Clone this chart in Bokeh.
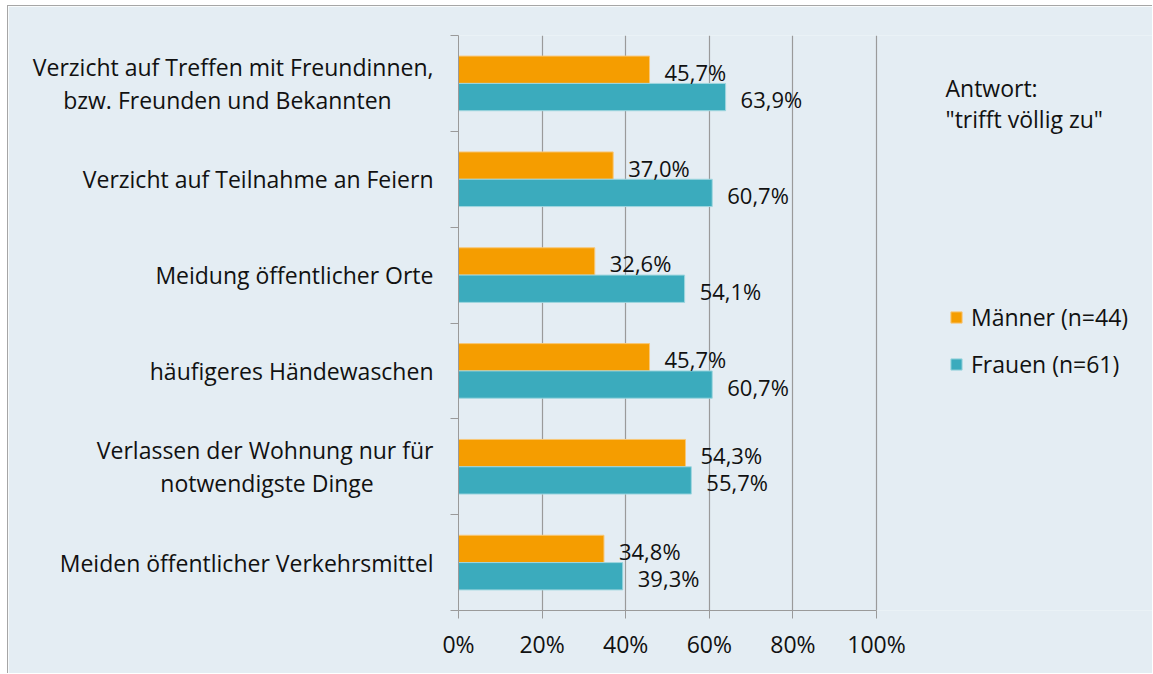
from bokeh.plotting import figure
from bokeh.models import (ColumnDataSource, FixedTicker, PrintfTickFormatter, Label,
                          Legend, LegendItem, Range1d)
from bokeh.embed import file_html
from bokeh.resources import INLINE
from bokeh.core.properties import value

# ---------------- data ----------------
categories = [
    ["Verzicht auf Treffen mit Freundinnen,", "bzw. Freunden und Bekannten"],
    ["Verzicht auf Teilnahme an Feiern"],
    ["Meidung öffentlicher Orte"],
    ["häufigeres Händewaschen"],
    ["Verlassen der Wohnung nur für", "notwendigste Dinge"],
    ["Meiden öffentlicher Verkehrsmittel"],
]
maenner = [45.7, 37.0, 32.6, 45.7, 54.3, 34.8]
frauen = [63.9, 60.7, 54.1, 60.7, 55.7, 39.3]
series_names = ["Männer (n=44)", "Frauen (n=61)"]
x_ticks = [0, 20, 40, 60, 80, 100]
note_lines = ["Antwort:", "\"trifft völlig zu\""]

# ---------------- style ----------------
FONT = "Open Sans"
FS = "23px"
FS_VAL = "22px"
BG = "#E4EDF3"
ORANGE = "#F59D00"
TEAL = "#3BABBD"
GRID = "#9a9a9a"
TXT = "#111111"

n = len(categories)
centers = [n - i - 0.5 for i in range(n)]
bar_h = 0.285

# the second line of a wrapped label is roughly centred under the first one
line2_pad = {0: 7, 4: 10}


def fmt(v):
    return ("%.1f%%" % v).replace(".", ",")


def label_text(i, lines):
    if len(lines) == 1:
        return lines[0]
    return lines[0] + "\n" + lines[1] + "\u00a0" * line2_pad.get(i, 0)


src_m = ColumnDataSource(dict(y=[c + bar_h / 2 for c in centers], v=maenner,
                              t=[fmt(v) for v in maenner]))
src_f = ColumnDataSource(dict(y=[c - bar_h / 2 for c in centers], v=frauen,
                              t=[fmt(v) for v in frauen]))

W, H = 1145, 668
left_b, top_b, right_b = 450, 29, 0
frame_h = 575
px_per_100 = 418.0
frame_w = W - left_b - right_b
x_max = 100.0 * frame_w / px_per_100

p = figure(width=W, height=H, output_backend="svg", toolbar_location=None,
           x_range=Range1d(0, x_max), y_range=Range1d(0, n),
           min_border_left=left_b, min_border_top=top_b,
           min_border_right=right_b,
           min_border_bottom=H - top_b - frame_h)
p.background_fill_color = BG
p.border_fill_color = BG
p.outline_line_color = None
p.styles = {"border-left": "1px solid #a6a6a6", "border-top": "1px solid #a6a6a6",
            "margin-left": "7px", "margin-top": "5px"}

r_m = p.hbar(y="y", right="v", left=0, height=bar_h, source=src_m,
             fill_color=ORANGE, line_color="#f8c777", line_width=1)
r_f = p.hbar(y="y", right="v", left=0, height=bar_h, source=src_f,
             fill_color=TEAL, line_color="#9fd6df", line_width=1)

for src in (src_m, src_f):
    p.text(x="v", y="y", text="t", source=src, x_offset=15, y_offset=2,
           text_baseline="middle", text_align="left",
           text_font=value(FONT), text_font_size=FS_VAL, text_color=TXT)

# x axis (only spans 0..100)
p.xaxis.ticker = FixedTicker(ticks=x_ticks)
p.xaxis.bounds = (0, 100)
p.xaxis.formatter = PrintfTickFormatter(format="%d%%")
p.xaxis.axis_line_color = GRID
p.xaxis.major_tick_line_color = GRID
p.xaxis.major_tick_out = 8
p.xaxis.major_tick_in = 0
p.xaxis.minor_tick_line_color = None
p.xaxis.major_label_text_font = FONT
p.xaxis.major_label_text_font_size = FS
p.xaxis.major_label_text_color = TXT
p.xaxis.major_label_standoff = 9

p.xgrid.ticker = FixedTicker(ticks=x_ticks)
p.xgrid.grid_line_color = GRID
p.xgrid.grid_line_width = 1.2
p.ygrid.visible = False

# y axis: category labels at centres, tick marks at boundaries
p.yaxis.ticker = FixedTicker(ticks=centers, minor_ticks=list(range(n + 1)))
p.yaxis.major_label_overrides = {c: label_text(i, lines)
                                 for i, (c, lines) in enumerate(zip(centers, categories))}
p.yaxis.axis_line_color = GRID
p.yaxis.major_tick_line_color = None
p.yaxis.major_tick_out = 0
p.yaxis.major_tick_in = 0
p.yaxis.minor_tick_line_color = GRID
p.yaxis.minor_tick_out = 8
p.yaxis.minor_tick_in = 0
p.yaxis.major_label_standoff = 17
p.yaxis.major_label_text_font = FONT
p.yaxis.major_label_text_font_size = FS
p.yaxis.major_label_text_color = TXT
p.yaxis.major_label_text_line_height = 1.03

# note text on the right
for k, line in enumerate(note_lines):
    p.add_layout(Label(x=487, x_units="screen", y=frame_h - 52 - 31 * k,
                       y_units="screen", text=line, text_align="left",
                       text_baseline="middle", text_font=FONT,
                       text_font_size=FS, text_color=TXT))

legend = Legend(items=[LegendItem(label=series_names[0], renderers=[r_m]),
                       LegendItem(label=series_names[1], renderers=[r_f])],
                location=(491, 230), orientation="vertical",
                glyph_width=14, glyph_height=14, label_standoff=8, spacing=15,
                padding=0, margin=0, border_line_color=None,
                background_fill_alpha=0, label_height=32,
                label_text_font=FONT, label_text_font_size=FS,
                label_text_color=TXT)
p.add_layout(legend, "center")

open("out.html", "w").write(file_html(p, INLINE))
